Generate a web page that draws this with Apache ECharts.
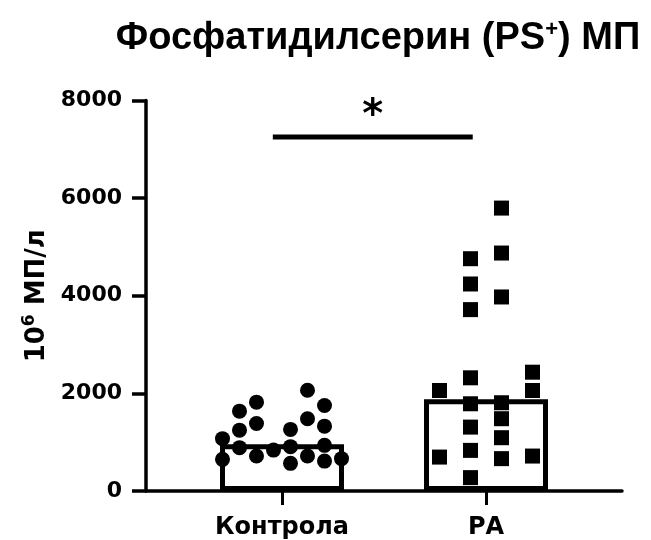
<!DOCTYPE html>
<html>
<head>
<meta charset="utf-8">
<script src="https://cdn.jsdelivr.net/npm/echarts@6/dist/echarts.min.js"></script>
<style>
  html, body { margin: 0; padding: 0; background: #fff; }
  #chart { width: 651px; height: 540px; }
</style>
</head>
<body>
<div id="chart"></div>
<script>
// Groups on the x axis
const categories = ['Контрола', 'РА'];

// Bar heights (group summary), 10^6 MP per litre
const barValues = [960, 1880];

// Individual measurements, Control group, and the swarm column each dot sits in
const controlValues  = [1072, 648, 1636, 1247, 888, 1820, 1384, 716, 838, 1262, 908, 566, 2065, 1481, 716, 1753, 1329, 935, 613, 663];
const controlColumns = [0, 0, 1, 1, 1, 2, 2, 2, 3, 4, 4, 4, 5, 5, 5, 6, 6, 6, 6, 7];

// Individual measurements, RA group, and the swarm column each square sits in
const paValues  = [5796, 4875, 3975, 1808, 1481, 1092, 663, 4759, 4241, 3716, 2319, 1787, 1309, 832, 274, 2059, 695, 2434, 2059, 716];
const paColumns = [2, 2, 2, 2, 2, 2, 2, 1, 1, 1, 1, 1, 1, 1, 1, 0, 0, 3, 3, 3];

// Y axis ticks
const yTicks = [0, 2000, 4000, 6000, 8000];

// Significance bracket: from/to in category units, height in data units
const sigFrom = -0.045, sigTo = 0.935, sigLevel = 7250, sigMarkLevel = 7680;

const FONT = 'DejaVu Sans';

// Swarm layout: spread columns symmetrically around each category centre
function swarm(values, columns, catIndex, nCols, step) {
  return values.map((v, i) => [catIndex + (columns[i] - (nCols - 1) / 2) * step, v]);
}

const chart = echarts.init(document.getElementById('chart'), null, { renderer: 'canvas' });

chart.setOption({
  backgroundColor: '#ffffff',
  animation: false,
  graphic: [{
    type: 'text',
    x: 378,
    y: 39,
    style: {
      text: '{t|Фосфатидилсерин (PS}{s|+}{t|) МП}',
      textAlign: 'center',
      textVerticalAlign: 'middle',
      rich: {
        t: { fontFamily: 'Liberation Sans', fontWeight: 'bold', fontSize: 38, fill: '#000', lineHeight: 40 },
        s: { fontFamily: 'Liberation Sans', fontWeight: 'bold', fontSize: 22, fill: '#000', verticalAlign: 'top', lineHeight: 40 }
      }
    }
  }],
  grid: { left: 146, top: 100.5, right: 29, bottom: 48.3, containLabel: false },
  xAxis: {
    type: 'value',
    min: -2 / 3,
    max: 5 / 3,
    splitLine: { show: false },
    axisLine: { show: true, onZero: false, lineStyle: { color: '#000', width: 3.5 } },
    axisTick: { show: true, length: 14, lineStyle: { color: '#000', width: 3 }, customValues: [0, 1] },
    axisLabel: {
      customValues: [0, 1],
      formatter: v => categories[Math.round(v)],
      fontFamily: FONT, fontWeight: 'bold', fontSize: 24, color: '#000', margin: 25
    }
  },
  yAxis: {
    type: 'value',
    min: yTicks[0],
    max: yTicks[yTicks.length - 1],
    interval: yTicks[1] - yTicks[0],
    splitLine: { show: false },
    axisLine: { show: true, onZero: false, lineStyle: { color: '#000', width: 3.5 } },
    axisTick: { show: true, length: 14, lineStyle: { color: '#000', width: 3.5 } },
    axisLabel: {
      formatter: v => String(v),
      fontFamily: FONT, fontWeight: 'bold', fontSize: 22, color: '#000', margin: 24
    },
    name: '{b|10}{s|6}{b| МП/л}',
    nameLocation: 'middle',
    nameRotate: 90,
    nameGap: 91,
    nameTextStyle: {
      rich: {
        b: { fontFamily: FONT, fontWeight: 'bold', fontSize: 26, color: '#000', lineHeight: 32 },
        s: { fontFamily: FONT, fontWeight: 'bold', fontSize: 17, color: '#000', verticalAlign: 'top', lineHeight: 32 }
      }
    }
  },
  series: [
    {
      type: 'bar',
      data: barValues.map((v, i) => [i, v]),
      barWidth: 124,
      itemStyle: { color: '#fff', borderColor: '#000', borderWidth: 5 },
      z: 1
    },
    {
      type: 'scatter',
      data: swarm(controlValues, controlColumns, 0, 8, 17 / 204),
      symbol: 'circle',
      symbolSize: 15,
      itemStyle: { color: '#000', opacity: 1 },
      z: 3
    },
    {
      type: 'scatter',
      data: swarm(paValues, paColumns, 1, 4, 31 / 204),
      symbol: 'rect',
      symbolSize: 15,
      itemStyle: { color: '#000', opacity: 1 },
      z: 3
    },
    {
      type: 'line',
      data: [[sigFrom, sigLevel], [sigTo, sigLevel]],
      symbol: 'none',
      lineStyle: { color: '#000', width: 5 },
      z: 4
    },
    {
      type: 'scatter',
      data: [[(sigFrom + sigTo) / 2, sigMarkLevel]],
      symbolSize: 0,
      itemStyle: { opacity: 1 },
      label: {
        show: true,
        position: 'inside',
        formatter: '*',
        fontFamily: FONT, fontWeight: 'bold', fontSize: 40, color: '#000'
      },
      z: 4
    }
  ]
});
</script>
</body>
</html>
